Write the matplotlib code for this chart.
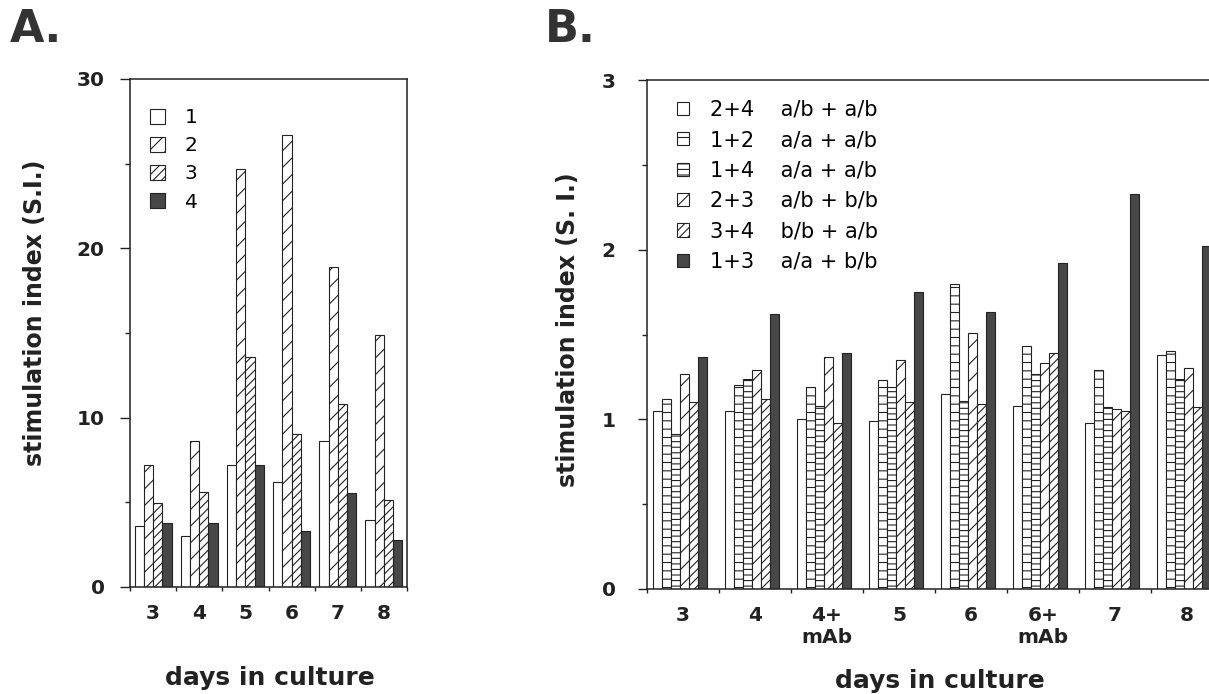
import matplotlib.pyplot as plt
import numpy as np

plt.rcParams['font.family'] = ['DejaVu Sans']
plt.rcParams['hatch.linewidth'] = 0.8
plt.rcParams['hatch.color'] = '#222222'

# panel A: stimulation index per day, cultures 1-4
days_a = ['3', '4', '5', '6', '7', '8']
labels_a = ['1', '2', '3', '4']
si_1 = [3.6, 3.0, 7.2, 6.2, 8.65, 3.96]
si_2 = [7.2, 8.65, 24.7, 26.7, 18.9, 14.9]
si_3 = [4.97, 5.6, 13.6, 9.05, 10.8, 5.13]
si_4 = [3.76, 3.76, 7.2, 3.3, 5.57, 2.76]

# panel B: mixed cultures
days_b = ['3', '4', '4+\nmAb', '5', '6', '6+\nmAb', '7', '8']
labels_b = ['2+4    a/b + a/b', '1+2    a/a + a/b', '1+4    a/a + a/b',
            '2+3    a/b + b/b', '3+4    b/b + a/b', '1+3    a/a + b/b']
mix_24 = [1.05, 1.05, 1.00, 0.99, 1.15, 1.08, 0.98, 1.38]
mix_12 = [1.12, 1.20, 1.19, 1.23, 1.80, 1.43, 1.29, 1.40]
mix_14 = [0.915, 1.24, 1.08, 1.19, 1.11, 1.27, 1.07, 1.24]
mix_23 = [1.27, 1.29, 1.37, 1.35, 1.51, 1.33, 1.06, 1.30]
mix_34 = [1.10, 1.12, 0.98, 1.10, 1.09, 1.39, 1.05, 1.07]
mix_13 = [1.37, 1.62, 1.39, 1.75, 1.63, 1.92, 2.33, 2.02]

INK = '#222222'
DARK = '#474747'

styles_a = [('white', ''), ('white', '//'), ('white', '////'), (DARK, '')]
styles_b = [('white', ''), ('white', '--'), ('white', '---'),
            ('white', '//'), ('white', '////'), (DARK, '')]


def grouped_bars(ax, series, labels, styles, width, shift=0.0):
    n = len(series)
    x = np.arange(len(series[0]))
    for i, (vals, lab, (fc, hatch)) in enumerate(zip(series, labels, styles)):
        pos = x + (i - (n - 1) / 2) * width + shift
        ax.bar(pos, vals, width, label=lab, color=fc, hatch=hatch,
               edgecolor=INK, linewidth=0.8)
    return x


def style_axes(ax, ncat, ymax, major, minor, ylen, ypad):
    ax.set_xlim(-0.5, ncat - 0.5)
    ax.set_ylim(0, ymax)
    ax.set_yticks(major)
    ax.set_yticks(minor, minor=True)
    ax.set_xticks(np.arange(-0.5, ncat, 1), minor=True)
    for s in ax.spines.values():
        s.set_linewidth(1.1)
        s.set_color(INK)
    ax.yaxis.set_tick_params(which='major', direction='out', length=ylen,
                             width=1, pad=ypad, labelsize=14.5, colors=INK)
    ax.yaxis.set_tick_params(which='minor', direction='out', length=3.5,
                             width=1, color=INK)
    ax.xaxis.set_tick_params(which='major', length=0, pad=12,
                             labelsize=14.5, colors=INK)
    ax.xaxis.set_tick_params(which='minor', direction='out', length=3,
                             width=1, color=INK)
    for t in ax.get_xticklabels() + ax.get_yticklabels():
        t.set_fontweight('bold')


fig = plt.figure(figsize=(12.09, 6.94), dpi=100)
W, H = 1209, 694

axA = fig.add_axes([130 / W, 1 - 587 / H, 277 / W, 508 / H])
xa = grouped_bars(axA, [si_1, si_2, si_3, si_4], labels_a, styles_a, 0.2)
axA.set_xticks(xa)
axA.set_xticklabels(days_a)
style_axes(axA, len(days_a), 30, [0, 10, 20, 30], [5, 15, 25], 7.2, 11)
axA.legend(loc='upper left', bbox_to_anchor=(0.02, 0.97), frameon=False,
           fontsize=14.5, handlelength=0.75, handleheight=0.75,
           handletextpad=1.0, labelspacing=0.45, borderaxespad=0.3)

axB = fig.add_axes([647 / W, 1 - 589 / H, 576 / W, 509 / H])
xb = grouped_bars(axB, [mix_24, mix_12, mix_14, mix_23, mix_34, mix_13],
                  labels_b, styles_b, 0.125, shift=-0.04)
axB.set_xticks(xb)
axB.set_xticklabels(days_b, linespacing=1.25, va='top')
style_axes(axB, len(days_b), 3, [0, 1, 2, 3], [0.5, 1.5, 2.5], 6.5, 16)
axB.legend(loc='upper left', bbox_to_anchor=(0.026, 0.99), frameon=False,
           fontsize=15, handlelength=0.6, handleheight=0.6,
           handletextpad=1.0, labelspacing=0.5, borderaxespad=0.3)

fig.text(10 / W, 1 - 29 / H, 'A.', fontsize=32, fontweight='bold',
         color='#333333', ha='left', va='center')
fig.text(545 / W, 1 - 29 / H, 'B.', fontsize=32, fontweight='bold',
         color='#333333', ha='left', va='center')

fig.text(35 / W, 1 - 313 / H, 'stimulation index (S.I.)', rotation=90,
         fontsize=17, fontweight='bold', color=INK, ha='center', va='center')
fig.text(568 / W, 1 - 330 / H, 'stimulation index (S. I.)', rotation=90,
         fontsize=17, fontweight='bold', color=INK, ha='center', va='center')
fig.text(270 / W, 1 - 678 / H, 'days in culture', fontsize=18,
         fontweight='bold', color=INK, ha='center', va='center')
fig.text(940 / W, 1 - 681 / H, 'days in culture', fontsize=18,
         fontweight='bold', color=INK, ha='center', va='center')

fig.savefig('out.png', dpi=100)
